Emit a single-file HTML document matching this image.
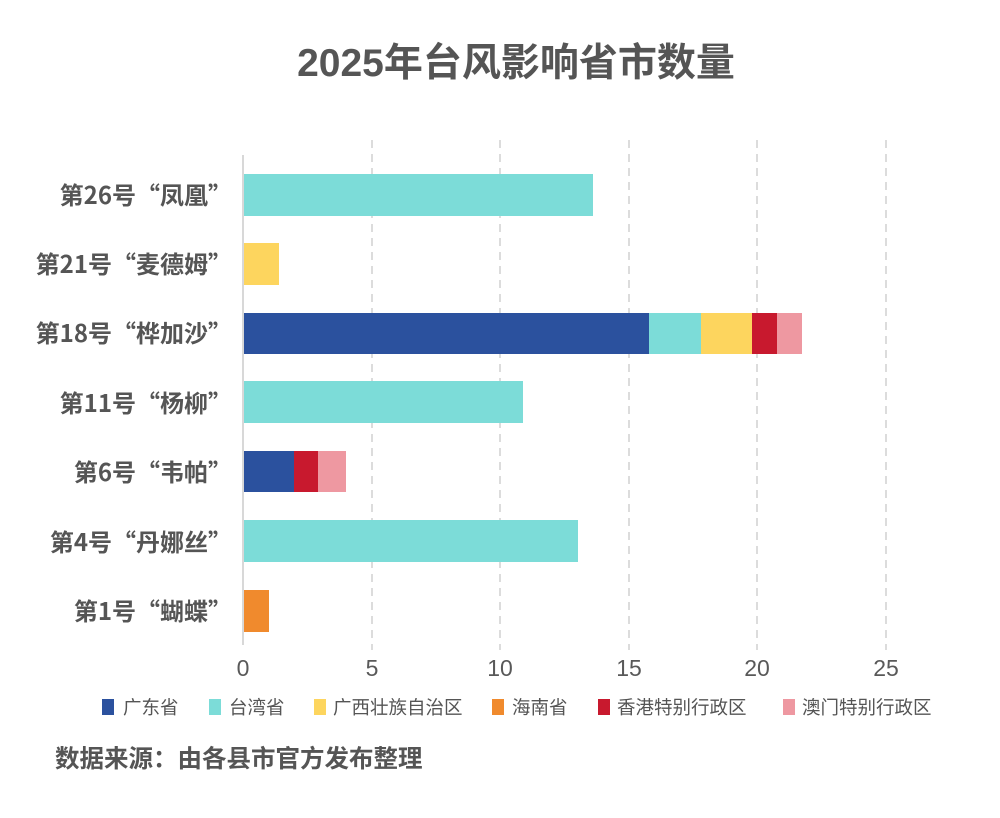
<!DOCTYPE html>
<html><head><meta charset="utf-8"><style>
html,body{margin:0;padding:0;background:#fff;}
svg text{font-family:"Liberation Sans","Noto Sans CJK SC",sans-serif;}
svg text.cjk{font-family:"Noto Sans CJK SC",sans-serif;}
</style></head><body>
<svg width="1000" height="813" viewBox="0 0 1000 813" xmlns="http://www.w3.org/2000/svg">
<rect width="1000" height="813" fill="#fff"/>
<text x="516" y="76" text-anchor="middle" font-size="39" font-weight="bold" fill="#555">2025年台风影响省市数量</text>
<g stroke="#d0d0d0" stroke-width="1.5" stroke-dasharray="8,6">
<line x1="372" y1="140" x2="372" y2="650"/>
<line x1="500" y1="140" x2="500" y2="650"/>
<line x1="629" y1="140" x2="629" y2="650"/>
<line x1="757" y1="140" x2="757" y2="650"/>
<line x1="886" y1="140" x2="886" y2="650"/>
</g>
<line x1="243" y1="155" x2="243" y2="645" stroke="#ccc" stroke-width="1.5"/>
<g font-size="23" fill="#595959" text-anchor="middle">
<text x="243" y="676">0</text><text x="372" y="676">5</text><text x="500" y="676">10</text>
<text x="629" y="676">15</text><text x="757" y="676">20</text><text x="886" y="676">25</text>
</g>
<g font-size="24" font-weight="bold" fill="#555" text-anchor="end">
<text class="cjk" x="232" y="204">第26号“凤凰”</text>
<text class="cjk" x="232" y="273">第21号“麦德姆”</text>
<text class="cjk" x="232" y="342">第18号“桦加沙”</text>
<text class="cjk" x="232" y="412">第11号“杨柳”</text>
<text class="cjk" x="232" y="481">第6号“韦帕”</text>
<text class="cjk" x="232" y="551">第4号“丹娜丝”</text>
<text class="cjk" x="232" y="620">第1号“蝴蝶”</text>
</g>
<rect x="244" y="174" width="349" height="42" fill="#7cdcd8"/>
<rect x="244" y="243" width="35" height="42" fill="#fdd55e"/>
<rect x="244" y="313" width="405" height="41" fill="#2b519e"/>
<rect x="649" y="313" width="52" height="41" fill="#7cdcd8"/>
<rect x="701" y="313" width="51" height="41" fill="#fdd55e"/>
<rect x="752" y="313" width="25" height="41" fill="#c8192e"/>
<rect x="777" y="313" width="25" height="41" fill="#ee98a1"/>
<rect x="244" y="381" width="279" height="42" fill="#7cdcd8"/>
<rect x="244" y="451" width="50" height="41" fill="#2b519e"/>
<rect x="294" y="451" width="24" height="41" fill="#c8192e"/>
<rect x="318" y="451" width="28" height="41" fill="#ee98a1"/>
<rect x="244" y="520" width="334" height="42" fill="#7cdcd8"/>
<rect x="244" y="590" width="25" height="42" fill="#f08a2d"/>
<g font-size="18.5" fill="#555">
<rect x="102" y="699" width="12" height="16" fill="#2b519e"/><text x="123" y="714">广东省</text>
<rect x="209" y="699" width="12" height="16" fill="#7cdcd8"/><text x="229" y="714">台湾省</text>
<rect x="314" y="699" width="12" height="16" fill="#fdd55e"/><text x="333" y="714">广西壮族自治区</text>
<rect x="492" y="699" width="12" height="16" fill="#f08a2d"/><text x="512" y="714">海南省</text>
<rect x="598" y="699" width="12" height="16" fill="#c8192e"/><text x="617" y="714">香港特别行政区</text>
<rect x="783" y="699" width="12" height="16" fill="#ee98a1"/><text x="802" y="714">澳门特别行政区</text>
</g>
<text x="55" y="767" font-size="24.5" font-weight="bold" fill="#555">数据来源：由各县市官方发布整理</text>
</svg>
</body></html>
